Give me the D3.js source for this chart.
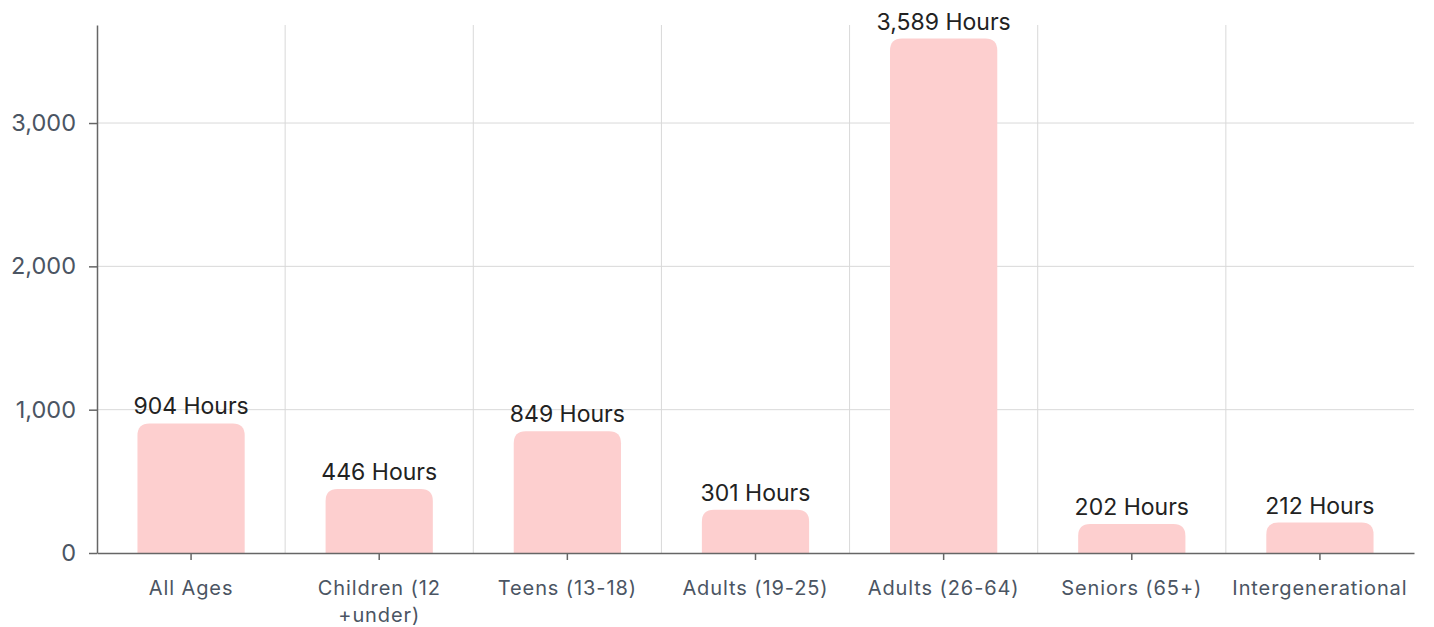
<!DOCTYPE html>
<html>
<head>
<meta charset="utf-8">
<script src="https://cdn.jsdelivr.net/npm/d3@7"></script>
<style>
  body { margin: 0; background: #fff; font-family: Inter, "Noto Sans", sans-serif; }
</style>
</head>
<body>
<script>
'use strict';

const categories = ['All Ages', 'Children (12 +under)', 'Teens (13-18)', 'Adults (19-25)',
  'Adults (26-64)', 'Seniors (65+)', 'Intergenerational'];
const hours = [904, 446, 849, 301, 3589, 202, 212];
const yTicks = [0, 1000, 2000, 3000];

const width = 1434, height = 627;
const margin = { top: 25, right: 20, bottom: 74, left: 97 };
const innerW = width - margin.left - margin.right;
const innerH = height - margin.top - margin.bottom;

const svg = d3.select('body').append('svg')
  .attr('width', width).attr('height', height);
const g = svg.append('g').attr('transform', `translate(${margin.left},${margin.top})`);

const x = d3.scaleBand().domain(categories).range([0, innerW]).padding(0);
const y = d3.scaleLinear().domain([0, 3684]).range([innerH, 0]);
const barW = x.bandwidth() * 0.57;
const r = 12;

// horizontal gridlines
g.selectAll('.hgrid').data(yTicks.slice(1)).enter().append('line')
  .attr('x1', 0).attr('x2', innerW)
  .attr('y1', (d) => y(d)).attr('y2', (d) => y(d))
  .attr('stroke', '#d9d9d9').attr('stroke-width', 1);

// vertical gridlines at band boundaries
g.selectAll('.vgrid').data(categories.slice(1)).enter().append('line')
  .attr('x1', (d) => x(d)).attr('x2', (d) => x(d))
  .attr('y1', 0).attr('y2', innerH)
  .attr('stroke', '#d9d9d9').attr('stroke-width', 1);

// bars with rounded tops
function barPath(cx, top, bottom, w) {
  const x0 = cx - w / 2, x1 = cx + w / 2;
  const rr = Math.min(r, (bottom - top));
  return `M${x0},${bottom}V${top + rr}Q${x0},${top} ${x0 + rr},${top}` +
    `H${x1 - rr}Q${x1},${top} ${x1},${top + rr}V${bottom}Z`;
}

g.selectAll('.bar').data(hours).enter().append('path')
  .attr('d', (d, i) => barPath(x(categories[i]) + x.bandwidth() / 2, y(d), y(0), barW))
  .attr('fill', '#fdcfcf');

g.selectAll('.lbl').data(hours).enter().append('text')
  .attr('x', (d, i) => x(categories[i]) + x.bandwidth() / 2)
  .attr('y', (d) => y(d) - 9)
  .attr('text-anchor', 'middle')
  .attr('font-size', 23)
  .attr('fill', '#222')
  .text((d) => d3.format(',')(d) + ' Hours');

// y axis
const yAxis = g.append('g').call(d3.axisLeft(y).tickValues(yTicks).tickFormat(d3.format(','))
  .tickSize(8).tickSizeOuter(0).tickPadding(13));
yAxis.select('.domain').attr('stroke', '#666').attr('stroke-width', 1.5);
yAxis.selectAll('.tick line').attr('stroke', '#666').attr('stroke-width', 1.5);
yAxis.selectAll('text').attr('font-size', 23.5).attr('fill', '#4b5563')
  .attr('font-family', 'Inter, "Noto Sans", sans-serif');

// x axis
const xAxis = g.append('g').attr('transform', `translate(0,${innerH})`)
  .call(d3.axisBottom(x).tickSize(7).tickSizeOuter(0).tickPadding(21));
xAxis.select('.domain').attr('stroke', '#666').attr('stroke-width', 1.5);
xAxis.selectAll('.tick line').attr('stroke', '#666').attr('stroke-width', 1.5);
xAxis.selectAll('text').attr('font-size', 20).attr('fill', '#4b5563')
  .attr('letter-spacing', '0.9px')
  .attr('font-family', 'Inter, "Noto Sans", sans-serif')
  .each(function (d) {
    const t = d3.select(this);
    if (d === 'Children (12 +under)') {
      t.text(null);
      t.append('tspan').attr('x', 0).attr('dy', '0.71em').text('Children (12');
      t.append('tspan').attr('x', 0).attr('dy', '1.33em').text('+under)');
      t.attr('dy', null);
    }
  });
</script>
</body>
</html>
